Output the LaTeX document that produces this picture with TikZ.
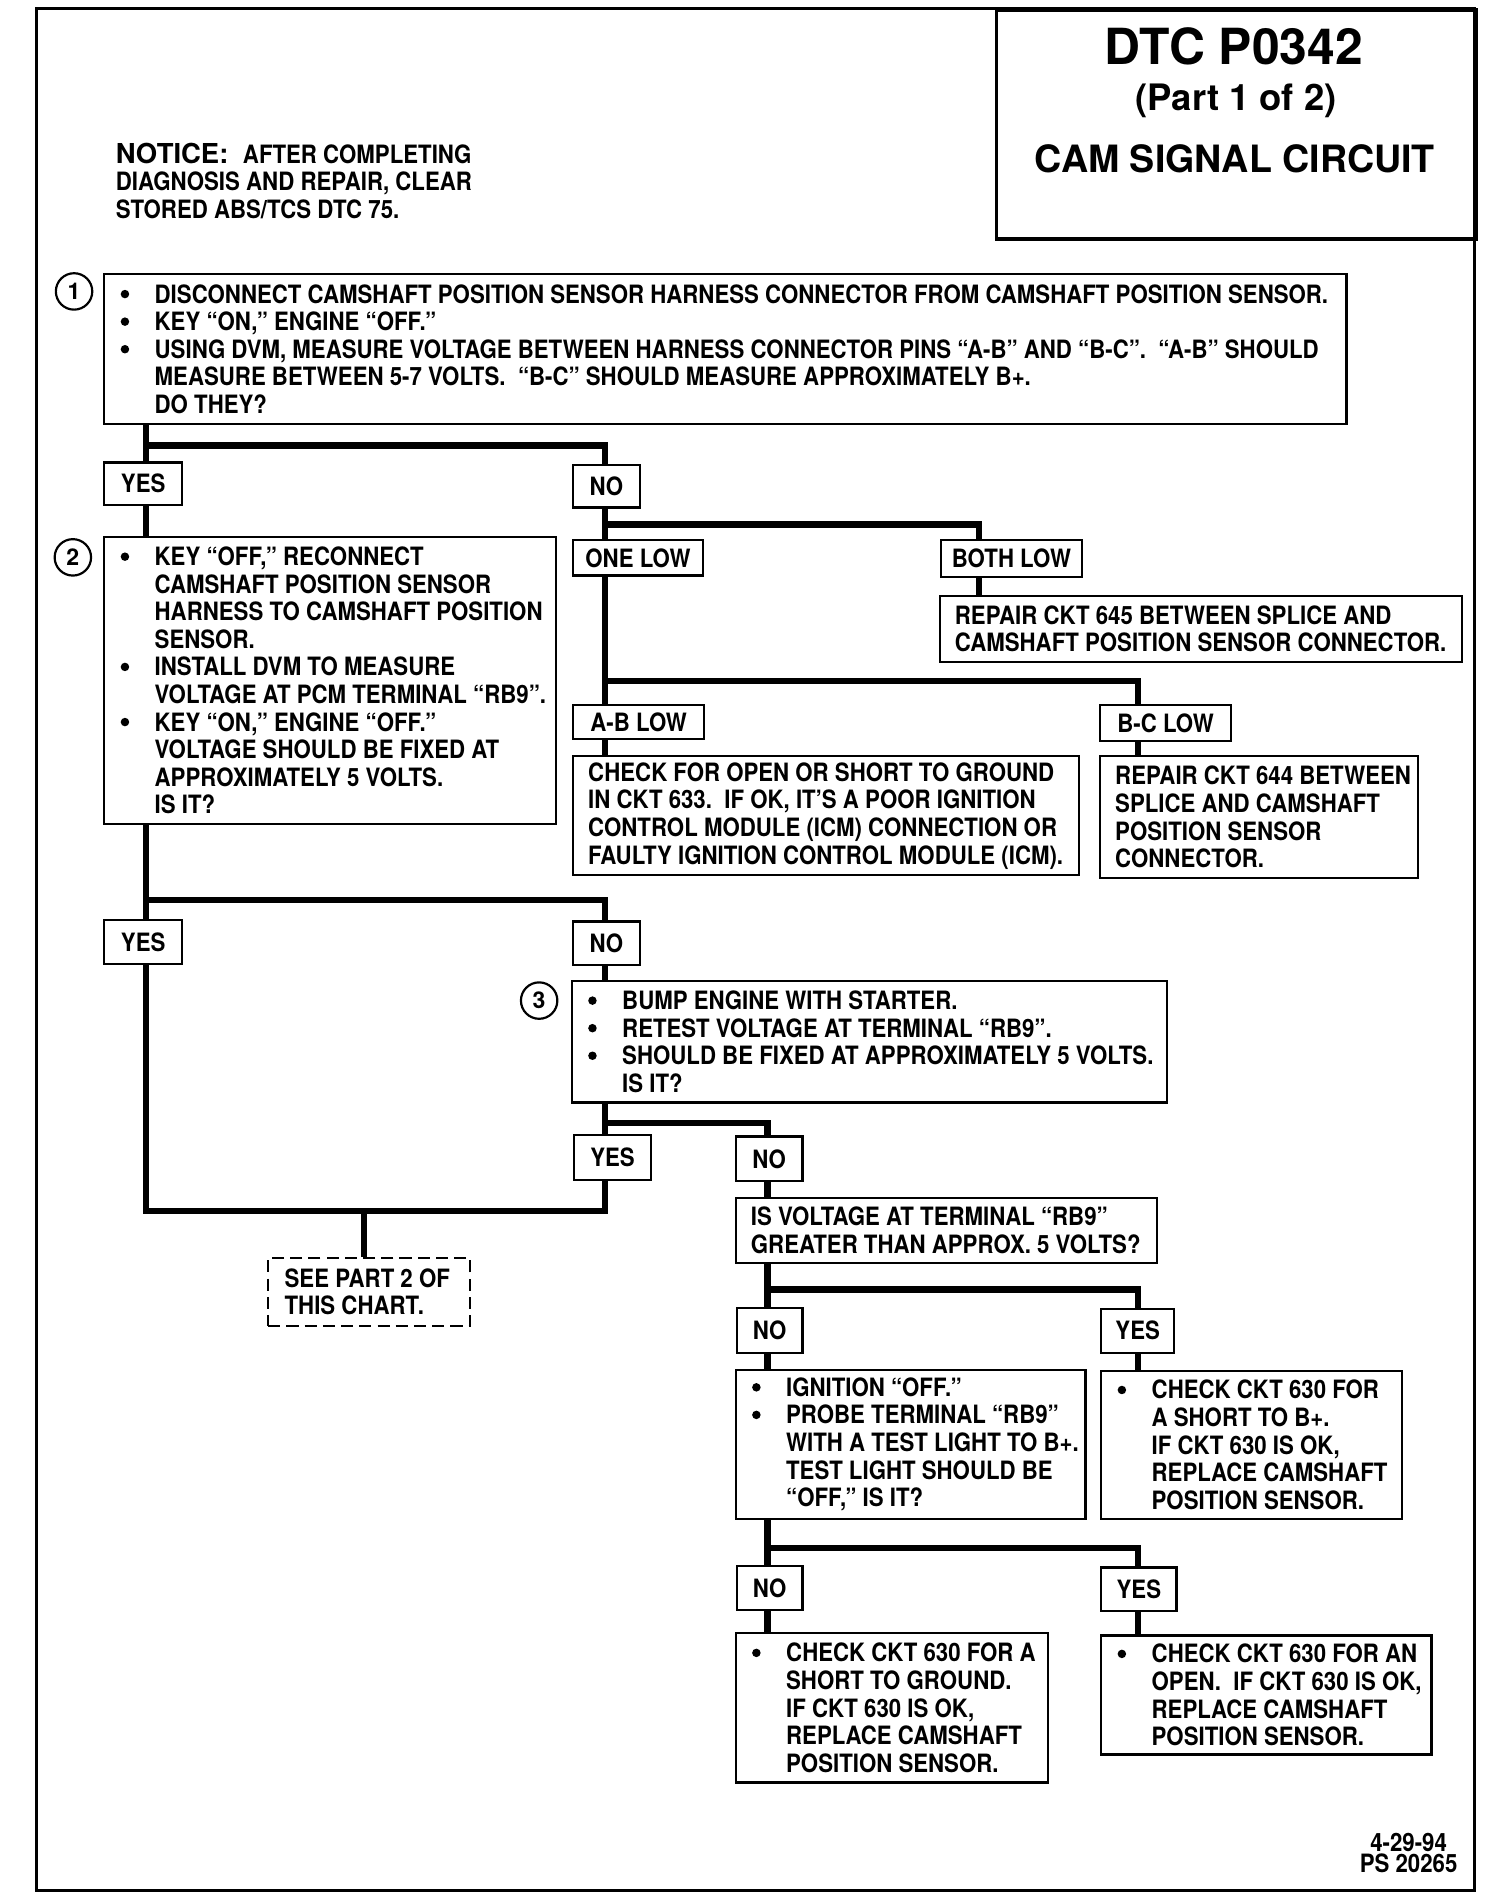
\documentclass[tikz,border=0pt]{standalone}
\usepackage{fontspec}
\setmainfont{TeX Gyre Heros}
\newfontfamily\chartfont{TeX Gyre Heros}[FakeStretch=0.88]
\usetikzlibrary{positioning}
\setlength{\parindent}{0pt}

\newcommand{\bodyfont}{\chartfont\bfseries\fontsize{10.4pt}{11.35pt}\selectfont}
\newcommand{\bul}{\makebox[15pt][l]{\hspace{1pt}\tikz[baseline=-3.7pt]\fill (0,0) circle (1.75pt);}}
\newcommand{\cont}{\hspace*{15pt}}

\tikzset{
  box/.style 2 args={draw, line width=0.9pt, anchor=north west, inner sep=0pt,
    minimum width=#1*0.5pt, minimum height=#2*0.5pt, font=\bodyfont},
  txt/.style={inner sep=0pt, align=left, font=\bodyfont},
  wire/.style={line width=2.6pt},
  stepnum/.style={draw, circle, line width=0.9pt, minimum size=15pt, inner sep=0pt,
    font=\bfseries\fontsize{9.5pt}{10pt}\selectfont},
}

\begin{document}
\begin{tikzpicture}[x=0.5pt, y=-0.5pt]
\useasboundingbox (0,0) rectangle (1225,1568);

% ── Frame and title ──────────────────────────────────────────
\draw[line width=1.3pt] (30,7) rectangle (1214,1557);
\node[box={395}{188}, line width=1.6pt] (title) at (819,7) {};
\node[font=\bfseries\fontsize{20.5pt}{22pt}\selectfont] (dtc) at (1016,38) {DTC P0342};
\node[font=\bfseries\fontsize{15pt}{17pt}\selectfont] (part) at (1018,83) {(Part 1 of 2)};
\node[font=\bfseries\fontsize{15.5pt}{17pt}\selectfont] (cam) at (1017,131) {CAM SIGNAL CIRCUIT};

\node[txt, anchor=west] (note) at (95,149) {{\rmfamily\bfseries\fontsize{11.3pt}{12pt}\selectfont NOTICE:}\hspace{6pt}AFTER COMPLETING\\
  DIAGNOSIS AND REPAIR, CLEAR\\
  STORED ABS/TCS DTC 75.};

% ── Step 1 ───────────────────────────────────────────────────
\node[stepnum] (c1) at (61,240) {1};
\node[box={1023}{123}] (b1) at (85,225) {};
\node[txt, right=6pt of b1.west] (b1t) {%
  \bul DISCONNECT CAMSHAFT POSITION SENSOR HARNESS CONNECTOR FROM CAMSHAFT POSITION SENSOR.\\
  \bul KEY “ON,” ENGINE “OFF.”\\
  \bul USING DVM, MEASURE VOLTAGE BETWEEN HARNESS CONNECTOR PINS “A-B” AND “B-C”.\ \ “A-B” SHOULD\\
  \cont MEASURE BETWEEN 5-7 VOLTS.\ \ “B-C” SHOULD MEASURE APPROXIMATELY B+.\\
  \cont DO THEY?};

\node[box={64}{35}] (y1) at (85,380) {YES};
\node[box={55}{35}] (n1) at (471,382) {NO};

% ── Step 2 ───────────────────────────────────────────────────
\node[stepnum] (c2) at (60,459) {2};
\node[box={372}{237}] (b2) at (85,441) {};
\node[txt, right=6pt of b2.west] (b2t) {%
  \bul KEY “OFF,” RECONNECT\\
  \cont CAMSHAFT POSITION SENSOR\\
  \cont HARNESS TO CAMSHAFT POSITION\\
  \cont SENSOR.\\
  \bul INSTALL DVM TO MEASURE\\
  \cont VOLTAGE AT PCM TERMINAL “RB9”.\\
  \bul KEY “ON,” ENGINE “OFF.”\\
  \cont VOLTAGE SHOULD BE FIXED AT\\
  \cont APPROXIMATELY 5 VOLTS.\\
  \cont IS IT?};

% ── NO branch of step 1 ──────────────────────────────────────
\node[box={107}{29}] (one) at (471,444) {ONE LOW};
\node[box={116}{30}] (both) at (774,444) {BOTH LOW};
\node[box={430}{54}] (rep645) at (773,490) {};
\node[txt, right=6.5pt of rep645.west] (rep645t) {REPAIR CKT 645 BETWEEN SPLICE AND\\
  CAMSHAFT POSITION SENSOR CONNECTOR.};

\node[box={108}{28}] (ab) at (471,580) {A-B LOW};
\node[box={108}{29}] (bc) at (905,580) {B-C LOW};
\node[box={417}{98}] (chk633) at (471,622) {};
\node[txt, right=6.5pt of chk633.west] (chk633t) {CHECK FOR OPEN OR SHORT TO GROUND\\
  IN CKT 633.\ \ IF OK, IT’S A POOR IGNITION\\
  CONTROL MODULE (ICM) CONNECTION OR\\
  FAULTY IGNITION CONTROL MODULE (ICM).};
\node[box={262}{100}] (rep644) at (905,622) {};
\node[txt, right=6.5pt of rep644.west] (rep644t) {REPAIR CKT 644 BETWEEN\\
  SPLICE AND CAMSHAFT\\
  POSITION SENSOR\\
  CONNECTOR.};

% ── Step 3 ───────────────────────────────────────────────────
\node[box={64}{36}] (y2) at (85,757) {YES};
\node[box={55}{36}] (n2) at (471,758) {NO};
\node[stepnum] (c3) at (444,824) {3};
\node[box={490}{100}] (b3) at (470,807) {};
\node[txt, right=6pt of b3.west] (b3t) {%
  \bul BUMP ENGINE WITH STARTER.\\
  \bul RETEST VOLTAGE AT TERMINAL “RB9”.\\
  \bul SHOULD BE FIXED AT APPROXIMATELY 5 VOLTS.\\
  \cont IS IT?};

\node[box={63}{37}] (y3) at (472,934) {YES};
\node[box={55}{37}] (n3) at (605,935) {NO};
\node[box={166}{56}, dash pattern=on 5pt off 2.5pt] (see) at (220,1035) {};
\node[txt, right=7pt of see.west] (seet) {SEE PART 2 OF\\THIS CHART.};

% ── Voltage check ────────────────────────────────────────────
\node[box={347}{53}] (volt) at (605,986) {};
\node[txt, right=6.5pt of volt.west] (voltt) {IS VOLTAGE AT TERMINAL “RB9”\\
  GREATER THAN APPROX. 5 VOLTS?};
\node[box={54}{37}] (n4) at (606,1076) {NO};
\node[box={60}{36}] (y4) at (906,1077) {YES};

\node[box={288}{123}] (ign) at (605,1127) {};
\node[txt, right=6pt of ign.west] (ignt) {%
  \bul IGNITION “OFF.”\\
  \bul PROBE TERMINAL “RB9”\\
  \cont WITH A TEST LIGHT TO B+.\\
  \cont TEST LIGHT SHOULD BE\\
  \cont “OFF,” IS IT?};
\node[box={248}{122}] (chkb) at (906,1128) {};
\node[txt, right=6pt of chkb.west] (chkbt) {%
  \bul CHECK CKT 630 FOR\\
  \cont A SHORT TO B+.\\
  \cont IF CKT 630 IS OK,\\
  \cont REPLACE CAMSHAFT\\
  \cont POSITION SENSOR.};

\node[box={54}{36}] (n5) at (606,1289) {NO};
\node[box={62}{36}] (y5) at (906,1290) {YES};
\node[box={257}{123}] (gnd) at (605,1344) {};
\node[txt, right=6pt of gnd.west] (gndt) {%
  \bul CHECK CKT 630 FOR A\\
  \cont SHORT TO GROUND.\\
  \cont IF CKT 630 IS OK,\\
  \cont REPLACE CAMSHAFT\\
  \cont POSITION SENSOR.};
\node[box={272}{98}] (open) at (906,1346) {};
\node[txt, right=6pt of open.west] (opent) {%
  \bul CHECK CKT 630 FOR AN\\
  \cont OPEN.\ \ IF CKT 630 IS OK,\\
  \cont REPLACE CAMSHAFT\\
  \cont POSITION SENSOR.};

\node[txt, align=center, font=\chartfont\bfseries\fontsize{10.4pt}{9pt}\selectfont] (foot) at (1160,1526) {4-29-94\\PS 20265};

% ── Junctions (x of each branch line) ────────────────────────
\coordinate (ja) at (120,367);
\coordinate (jb) at (498,432);  \coordinate (kb) at (806,432);
\coordinate (jc) at (498,561);  \coordinate (kc) at (937,561);
\coordinate (jd) at (120,741);  \coordinate (kd) at (498,741);
\coordinate (je) at (498,925);  \coordinate (ke) at (632,925);
\coordinate (jf) at (120,997);  \coordinate (kf) at (498,997);
\coordinate (kg) at (300,997);
\coordinate (jg) at (632,1062); \coordinate (kh) at (937,1062);
\coordinate (jh) at (632,1275); \coordinate (ki) at (937,1275);

% ── Wires ────────────────────────────────────────────────────
\draw[wire] (b1.south -| ja) -- (y1.north -| ja);
\draw[wire] (ja) -| (n1.north -| jb);
\draw[wire] (y1.south -| ja) -- (b2.north -| ja);

\draw[wire] (n1.south -| jb) -- (one.north -| jb);
\draw[wire] (jb) -- (kb) -- (both.north -| kb);
\draw[wire] (both.south -| kb) -- (rep645.north -| kb);
\draw[wire] (one.south -| jc) -- (ab.north -| jc);
\draw[wire] (jc) -- (kc) -- (bc.north -| kc);
\draw[wire] (ab.south -| jc) -- (chk633.north -| jc);
\draw[wire] (bc.south -| kc) -- (rep644.north -| kc);

\draw[wire] (b2.south -| jd) -- (y2.north -| jd);
\draw[wire] (jd) -- (kd) -- (n2.north -| kd);
\draw[wire] (n2.south -| kd) -- (b3.north -| kd);
\draw[wire] (b3.south -| je) -- (y3.north -| je);
\draw[wire] (je) -- (ke) -- (n3.north -| ke);

\draw[wire] (y2.south -| jf) -- (jf) -- (kf) -- (y3.south -| kf);
\draw[wire] (kg) -- (see.north -| kg);

\draw[wire] (n3.south -| ke) -- (volt.north -| ke);
\draw[wire] (volt.south -| jg) -- (n4.north -| jg);
\draw[wire] (jg) -- (kh) -- (y4.north -| kh);
\draw[wire] (n4.south -| jg) -- (ign.north -| jg);
\draw[wire] (y4.south -| kh) -- (chkb.north -| kh);
\draw[wire] (ign.south -| jh) -- (n5.north -| jh);
\draw[wire] (jh) -- (ki) -- (y5.north -| ki);
\draw[wire] (n5.south -| jh) -- (gnd.north -| jh);
\draw[wire] (y5.south -| ki) -- (open.north -| ki);

\end{tikzpicture}
\end{document}
